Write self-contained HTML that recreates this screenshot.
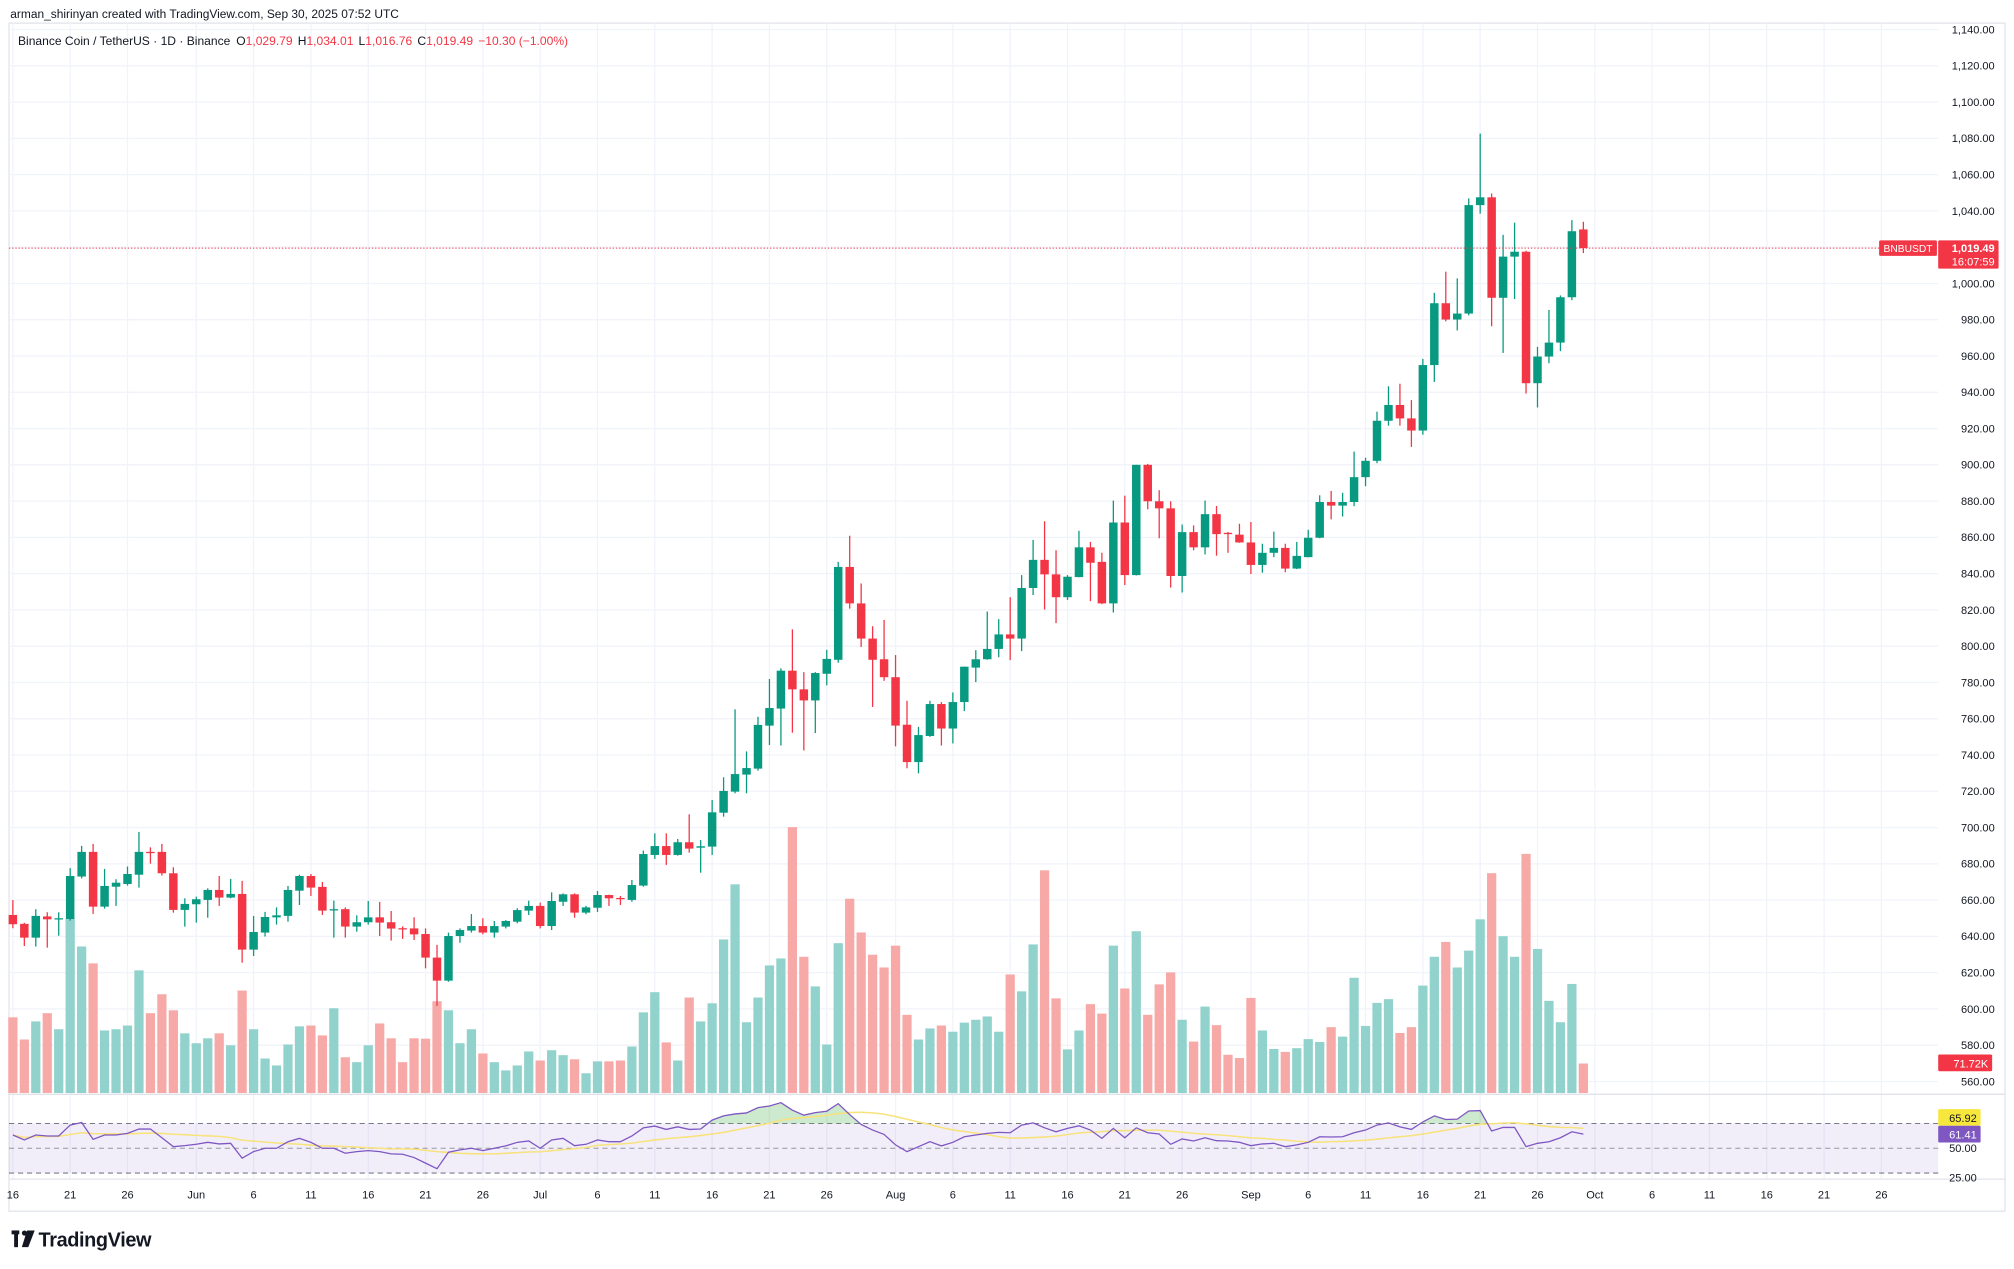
<!DOCTYPE html>
<html><head><meta charset="utf-8"><title>BNBUSDT chart</title>
<style>
html,body{margin:0;padding:0;background:#fff;}
svg{display:block;font-family:"Liberation Sans",Arial,sans-serif;}
</style></head>
<body>
<svg id="chart" xmlns="http://www.w3.org/2000/svg" width="2014" height="1269" viewBox="0 0 1568 988">
  <rect x="0" y="0" width="1568" height="988" fill="#ffffff"/>
  <text x="8" y="14" font-size="9.3" fill="#131722">arman_shirinyan created with TradingView.com, Sep 30, 2025 07:52 UTC</text>
  <rect x="7" y="18" width="1554" height="925" fill="none" stroke="#e0e3eb" stroke-width="1"/>
  <g id="grid"></g>
  <g id="rsiPane"></g>
  <g id="volumes"></g>
  <g id="candles"></g>
  <g id="axes"></g>
  <g>
    <text x="14" y="35" font-size="9.4" fill="#131722">Binance Coin / TetherUS · 1D · Binance <tspan dx="2">O</tspan><tspan fill="#f23645">1,029.79</tspan><tspan dx="4">H</tspan><tspan fill="#f23645">1,034.01</tspan><tspan dx="4">L</tspan><tspan fill="#f23645">1,016.76</tspan><tspan dx="4">C</tspan><tspan fill="#f23645">1,019.49</tspan><tspan dx="4" fill="#f23645">−10.30 (−1.00%)</tspan></text>
  </g>
  <g>
    <rect x="9" y="958" width="6" height="3" fill="#131722"/>
    <rect x="11" y="958" width="3" height="13" fill="#131722"/>
    <circle cx="19" cy="960" r="2" fill="#131722"/>
    <polygon points="21,958 27,958 22,971 17,971" fill="#131722"/>
    <text x="30" y="970.5" font-size="15.5" font-weight="600" fill="#131722" letter-spacing="-0.3">TradingView</text>
  </g>
</svg>
<script>
const opens=[651.8,646.9,639.3,651,649.5,649.6,673,686.6,656.4,667.4,668.9,674,686.6,686.6,674.8,654.6,657.7,660.1,665.6,661.4,663.4,632.7,642.1,650.5,651.3,665.2,673.3,667.3,654.6,655,645.4,647.8,650.5,647.8,644.5,644.4,641.3,628.3,615.6,640.2,643.2,645.7,642.1,645.4,648.1,654.2,656.8,645.7,659.1,663.2,653.1,655.8,662.8,661.2,660.1,668,684.9,689.8,684.9,691.9,688.9,689.5,708.2,719.8,729.2,732.5,756.2,765.6,786.5,776.2,770.1,784.8,792.5,843.7,823.6,804.2,792.8,782.9,756.7,736.1,750.5,768.1,754.6,769.2,788.2,792.8,798.5,806.5,804.2,832.1,847.6,839.6,827,838.1,854.5,846.5,823.6,868.2,839.2,900,879.9,876,838.7,862.9,854.5,872.8,862.5,861.5,857.2,844.8,851.5,854.2,842.8,849.1,859.8,879.5,877.5,879.5,893.2,902.2,924.3,933,925.6,918.9,955,989.1,980.1,983.4,1043.2,1047.5,992.1,1014.8,1017.5,945,959.7,967.4,992.4,1029.79];
const highs=[660,647.5,655,653.3,653.3,677.6,689.9,691,677.2,671.5,678.5,697.6,689.1,691,678.1,661,661.9,666.5,673.3,671.7,670.6,651.3,653.5,656,667.8,674,674.4,670,659.7,656,651.6,659.5,659,654,645.5,650.5,644.4,635.3,642.1,644.4,652.3,650,648.5,649,655.5,659.7,658.6,664.3,663.7,663.7,656.8,665,663,662.3,671.1,687.3,696.8,696.8,693.7,707.3,693.1,715.2,727.7,765.2,742,761.1,781.9,787.8,809.3,785.7,785.7,798,846.5,860.9,834.6,811,814.5,795.1,769.9,755.5,769.9,769.2,774.5,788.7,797.8,819.1,814.9,827,839.2,858.6,868.9,852.9,839.2,863.6,857.5,851.5,880.3,883,900,900.5,886,879.9,867.1,866.6,880.3,877.3,863,867.5,868.5,856.5,863.2,856.5,857.5,864.2,883.2,885.6,884.6,907.3,903.9,929.3,943.3,944.7,935.7,958.4,994.8,1006.5,1002.8,1046.9,1082.6,1049.6,1026.8,1033.5,1018,965,985.4,993.4,1034.9,1034.01];
const lows=[644.5,634.7,634.4,633.8,640.4,648.7,672,652.4,655.3,656.8,668,666.9,680.1,673.5,653.1,645.4,647.6,650.3,656.8,661,625.5,629.2,639.9,646.5,648.1,657.3,662.3,651.8,639.3,639.3,642.6,646.5,640.2,637.7,638.6,638,622.4,601.6,615,636.5,642.1,641.1,639.3,644.4,647.2,651.8,644.4,643.5,656.8,650.3,652.2,653.5,656.8,657.3,659.1,667.4,682.7,679.4,684.5,686.2,675.1,684.9,706,718.9,718.9,731.4,745.5,745.2,752.3,742.5,752.1,778.4,790.9,820.7,799.6,766.5,780.9,744.8,732.7,729.9,750,745.2,746.4,764.2,780.2,792.5,793.9,792.3,797.3,828.2,820.2,812.7,825.5,838,824.8,823.2,818.6,833.7,839,875.5,859.5,832.3,829.6,852.9,850.6,849.9,851.5,857,839.8,840.5,849.1,840.8,842.5,849,859.5,869.9,871.5,877.2,888.2,900.9,921.6,921.6,909.9,916.6,945.7,979.1,974.1,982.4,1038.5,976.4,961.7,991.4,939.3,931.6,956,962.7,990.8,1016.76];
const closes=[646.7,639.3,651.3,649.4,650,673.3,686.6,656.4,667.8,669.6,674.4,686.6,686.2,674.8,654.6,657.9,660.5,665.6,661.4,663.4,632.7,642.4,650.7,651.6,665.6,673.3,666.9,654.2,655,645.4,647.8,650.5,647.6,644.3,644.3,641.1,628.3,615.6,640.2,643.5,645.7,642.1,645.7,648.5,654.5,656.8,645.7,659.5,663.2,653.1,656,662.8,661,661,668.3,685.4,689.8,684.9,691.9,688.4,689.7,708.4,720.2,729.5,732.8,756.6,765.9,786.5,776.2,770.1,785.2,793,843.7,823.6,804.2,792.5,782.9,756.2,736.1,751,768.1,754.6,769.2,788.7,792.8,798.5,806.5,804.2,832.1,847.6,839.6,827,838.3,854.5,846,823.6,868.2,839.2,900,879.9,876,838.7,862.9,854.5,872.8,861.8,862.2,857.2,844.8,851.5,854.2,842.8,849.8,859.8,879.5,877.5,879.5,893.2,902.2,924.3,933,925.6,918.9,955,989.1,980.1,983.4,1043.2,1047.5,992.1,1014.8,1017.5,945,959.7,967.4,992.4,1028.8,1019.49];
const volumes=[184,130,174,194,155,424,356,315,152,155,164,298,194,240,201,145,121,133,145,116,249,155,84,67,118,162,164,140,206,87,75,116,169,133,75,133,132,223,201,121,155,96,75,55,67,101,79,104,92,82,48,77,77,79,113,196,245,123,79,232,174,218,373,507,172,232,310,327,646,331,259,118,364,472,390,336,305,358,190,130,157,164,149,171,178,186,149,288,247,361,541,230,106,152,216,193,358,254,393,190,264,293,178,125,210,165,93,85,231,152,107,100,109,131,124,160,137,280,163,219,228,146,160,261,331,367,305,346,422,534,381,331,581,350,224,172,265,71.72];
const rsiValues=[60.7,56.7,60.7,59.9,59.9,68.7,70.8,57.2,60.7,60.7,62,65.5,65.5,58.5,51.3,52.1,53.2,54.8,53.5,54,42,47.3,50,50,55.3,58,54.8,50,50,46,47.3,48.1,47.3,45.5,45.2,42.5,38,33.5,46.8,48.7,50,48.1,50,51.9,54.8,55.9,50,56.7,58,52.1,53.2,56.7,55.3,55.3,59.9,66.5,67.9,65.2,67.3,65.2,65.5,72.7,76.1,77.7,78.5,82.8,84.1,86.8,80.7,76.7,78.8,79.9,86,77.2,69.2,64.7,61.2,52.7,47.3,51.3,55.3,51.9,54.8,59.3,60.7,62,62.8,62.5,68.7,70.5,66.5,63.3,66,68.1,64.7,58,66,58.5,66.5,62.5,61.5,53.2,57.5,55.9,58.5,56.1,55.9,54.8,52.1,53.5,54,51.3,52.7,54.8,59.3,59.1,59.3,62.5,64.7,68.7,70.5,67.3,65.2,71.3,76.1,73.2,73.5,80.1,80.4,63.9,66.8,66.8,51.3,54,55.3,58.5,63.3,61.41];
const priceTicks=[560,580,600,620,640,660,680,700,720,740,760,780,800,820,840,860,880,900,920,940,960,980,1000,1020,1040,1060,1080,1100,1120,1140];
const dateTickDays=[0,5,10,16,21,26,31,36,41,46,51,56,61,66,71,77,82,87,92,97,102,108,113,118,123,128,133,138,143,148,153,158,163];
const dateTickLabels=["16","21","26","Jun","6","11","16","21","26","Jul","6","11","16","21","26","Aug","6","11","16","21","26","Sep","6","11","16","21","26","Oct","6","11","16","21","26"];
const rsiLevels=[70,50,30];

const NS="http://www.w3.org/2000/svg";
const PLOT_L=7, PLOT_R=1509, PANE_TOP=18, MAIN_BOTTOM=852, RSI_BOTTOM=918;
const xOf=i=>10+8.925*i;
const yP=p=>23+(1140-p)*1.41207;
const yV=v=>851-v/3.12;
const yR=r=>894-(r-50)*0.965;
const GREEN="#089981", RED="#f23645";
function mk(tag,attrs,parent){const e=document.createElementNS(NS,tag);for(const k in attrs)e.setAttribute(k,attrs[k]);parent.appendChild(e);return e;}
const grid=document.getElementById('grid'), axes=document.getElementById('axes');
const fmt=v=>v.toLocaleString('en-US',{minimumFractionDigits:2,maximumFractionDigits:2});

priceTicks.forEach(p=>{
  const l=mk('line',{x1:PLOT_L,x2:PLOT_R,y1:yP(p),y2:yP(p),stroke:"#f0f3fa","stroke-width":1},grid);
  
  
  const t=mk('text',{x:1553,y:yP(p)+3,"font-size":8.6,fill:"#131722","text-anchor":"end"},axes);
  t.textContent=fmt(p);
  
  
});
dateTickDays.forEach((d,k)=>{
  const x=xOf(d);
  const l=mk('line',{x1:x,x2:x,y1:PANE_TOP,y2:RSI_BOTTOM,stroke:"#f0f3fa","stroke-width":1},grid);
  
  
  const t=mk('text',{x:x,y:933,"font-size":8.6,fill:"#131722","text-anchor":"middle"},axes);
  t.textContent=dateTickLabels[k];
  
  
});
const sep=mk('line',{x1:PLOT_L,x2:1561,y1:MAIN_BOTTOM,y2:MAIN_BOTTOM,stroke:"#e0e3eb","stroke-width":1},grid);


const sep2=mk('line',{x1:PLOT_L,x2:1561,y1:RSI_BOTTOM,y2:RSI_BOTTOM,stroke:"#e0e3eb","stroke-width":1},grid);



const rp=document.getElementById('rsiPane');
const band=mk('rect',{x:PLOT_L,y:yR(70),width:PLOT_R-PLOT_L,height:yR(30)-yR(70),fill:"#7e57c2","fill-opacity":0.1},rp);


rsiLevels.forEach(r=>{
  const l=mk('line',{x1:PLOT_L,x2:PLOT_R,y1:yR(r),y2:yR(r),stroke:r===50?"#9598a1":"#787b86","stroke-width":0.8,"stroke-dasharray":"4 3"},rp);
  
  
});
const rsiPts=rsiValues.map((r,i)=>xOf(i).toFixed(2)+","+yR(r).toFixed(2)).join(" ");
const defs=mk('defs',{},rp);
const cp=mk('clipPath',{id:'ob'},defs);
mk('rect',{x:0,y:0,width:1568,height:yR(70)},cp);
const fillPts=xOf(0)+","+yR(70)+" "+rsiPts+" "+xOf(rsiValues.length-1)+","+yR(70);
const obf=mk('polygon',{points:fillPts,fill:"#4caf50","fill-opacity":0.28,"clip-path":"url(#ob)"},rp);


const rsiMA=rsiValues.map((r,i)=>{const s=Math.max(0,i-13);const w=rsiValues.slice(s,i+1);return w.reduce((a,b)=>a+b,0)/w.length;});
const ma=mk('polyline',{points:rsiMA.map((r,i)=>xOf(i).toFixed(2)+","+yR(r).toFixed(2)).join(" "),fill:"none",stroke:"#f7e27c","stroke-width":1.2},rp);


const rl=mk('polyline',{points:rsiPts,fill:"none",stroke:"#7e57c2","stroke-width":1},rp);



const vg=document.getElementById('volumes');
volumes.forEach((v,i)=>{
  const up=closes[i]>=opens[i];
  const r=mk('rect',{x:xOf(i)-3.6,y:yV(v),width:7.2,height:851-yV(v),fill:up?"#92d2cc":"#f7a9a7"},vg);
  
  
});

const cg=document.getElementById('candles');
opens.forEach((o,i)=>{
  const c=closes[i], up=c>=o, col=up?GREEN:RED, x=xOf(i);
  const g=mk('g',{},cg);
  
  
  mk('line',{x1:x,x2:x,y1:yP(highs[i]),y2:yP(lows[i]),stroke:col,"stroke-width":1},g);
  const top=yP(Math.max(o,c)), bot=yP(Math.min(o,c));
  mk('rect',{x:x-3.3,y:top,width:6.6,height:Math.max(1,bot-top),fill:col},g);
});

const last=closes[closes.length-1];
const ly=yP(last);
const pl=mk('line',{x1:PLOT_L,x2:PLOT_R,y1:ly,y2:ly,stroke:RED,"stroke-width":0.8,"stroke-dasharray":"1 1.5"},axes);


const sym=mk('g',{},axes);


mk('rect',{x:1463,y:ly-6,width:45,height:12,fill:RED,rx:1},sym);
const st=mk('text',{x:1485.5,y:ly+3,"font-size":8,fill:"#fff","text-anchor":"middle"},sym);st.textContent="BNBUSDT";
const pt=mk('g',{},axes);


mk('rect',{x:1509,y:ly-6,width:47,height:22,fill:RED,rx:1},pt);
const t1=mk('text',{x:1553,y:ly+3,"font-size":8.6,"font-weight":"bold",fill:"#fff","text-anchor":"end"},pt);t1.textContent=fmt(last);
const t2=mk('text',{x:1553,y:ly+13.5,"font-size":8.6,fill:"#fff","text-anchor":"end"},pt);t2.textContent="16:07:59";
const lv=volumes[volumes.length-1];
const vt=mk('g',{},axes);


mk('rect',{x:1509,y:yV(lv)-7,width:42,height:13,fill:RED,rx:1},vt);
const vtt=mk('text',{x:1548,y:yV(lv)+3,"font-size":8.6,fill:"#fff","text-anchor":"end"},vt);vtt.textContent=lv.toFixed(2)+"K";
const rLast=rsiValues[rsiValues.length-1];
const mt=mk('g',{},axes);


mk('rect',{x:1509,y:863.5,width:33,height:13,fill:"#f7e73c",rx:1},mt);
const mtt=mk('text',{x:1539,y:873.5,"font-size":8.6,fill:"#131722","text-anchor":"end"},mt);mtt.textContent="65.92";
const rt=mk('g',{},axes);


mk('rect',{x:1509,y:876.5,width:33,height:13,fill:"#7e57c2",rx:1},rt);
const rtt=mk('text',{x:1539,y:886.5,"font-size":8.6,fill:"#fff","text-anchor":"end"},rt);rtt.textContent=rLast.toFixed(2);
[[50,"50.00"],[25,"25.00"]].forEach(([r,s])=>{
  const t=mk('text',{x:1539,y:(r===50?yR(50):917)+3,"font-size":8.6,fill:"#131722","text-anchor":"end"},axes);
  t.textContent=s;
  
  
});
</script>
</body></html>
